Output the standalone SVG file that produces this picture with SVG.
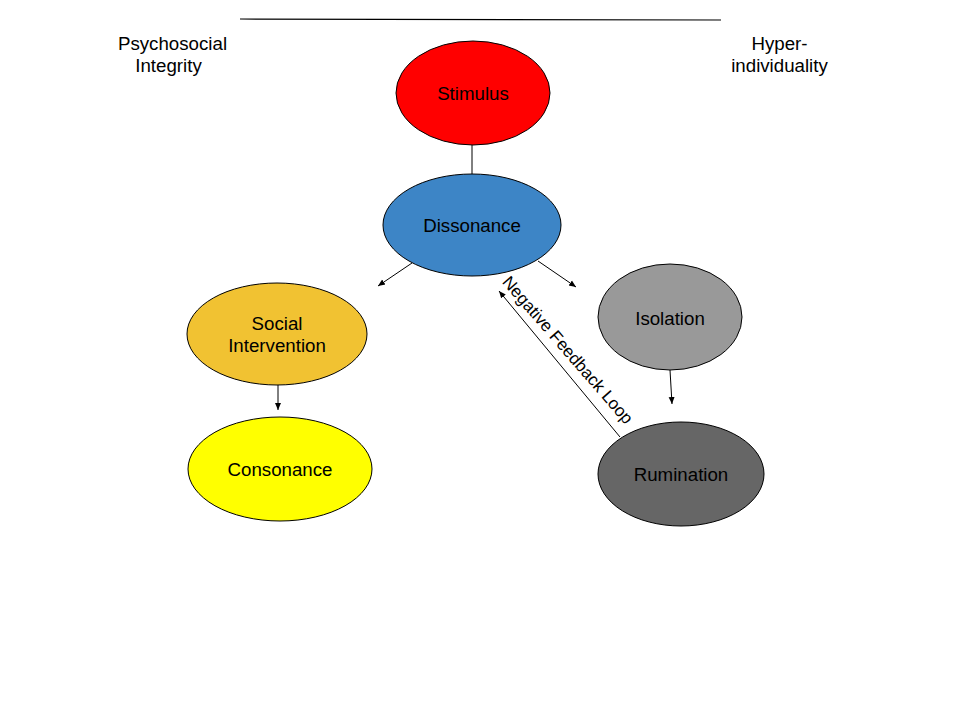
<svg xmlns="http://www.w3.org/2000/svg" width="960" height="720" viewBox="0 0 960 720">
<defs>
<marker id="ah" markerWidth="8" markerHeight="8" refX="7" refY="4" orient="auto" markerUnits="userSpaceOnUse">
<path d="M0,1 L7,4 L0,7 Z" fill="#000"/>
</marker>
<style>
.n{stroke:#000;stroke-width:1}
.t{font-family:"Liberation Sans",Arial,sans-serif;font-size:18.7px;fill:#000;text-anchor:middle}
.c{stroke:#000;stroke-width:1;fill:none}
</style>
</defs>
<rect width="960" height="720" fill="#fff"/>
<line x1="240" y1="19" x2="721" y2="20" stroke="#000" stroke-width="1.2"/>
<text class="t" x="172.5" y="50">Psychosocial</text>
<text class="t" x="168.5" y="72">Integrity</text>
<text class="t" x="779.5" y="50">Hyper-</text>
<text class="t" x="779.5" y="72">individuality</text>
<g id="connectors">
<line class="c" x1="472" y1="145" x2="472" y2="174"/>
<line class="c" x1="412" y1="263" x2="378" y2="286" marker-end="url(#ah)"/>
<line class="c" x1="538" y1="261" x2="576" y2="287" marker-end="url(#ah)"/>
<line class="c" x1="278" y1="385" x2="278" y2="410" marker-end="url(#ah)"/>
<line class="c" x1="670" y1="370" x2="672" y2="404" marker-end="url(#ah)"/>
<line class="c" x1="620" y1="437" x2="499" y2="291" marker-end="url(#ah)"/>
<text class="t" style="font-size:17px" transform="translate(568,350) rotate(49)" y="6">Negative Feedback Loop</text>
</g>
<g id="stimulus">
<ellipse class="n" cx="473" cy="93" rx="77" ry="52" fill="#ff0000"/>
<text class="t" x="473" y="100">Stimulus</text>
</g>
<g id="dissonance">
<ellipse class="n" cx="472" cy="225" rx="89" ry="51" fill="#3d85c6"/>
<text class="t" x="472" y="232">Dissonance</text>
</g>
<g id="social">
<ellipse class="n" cx="277" cy="334" rx="90" ry="51" fill="#f1c232"/>
<text class="t" x="277" y="330">Social</text>
<text class="t" x="277" y="352">Intervention</text>
</g>
<g id="consonance">
<ellipse class="n" cx="280" cy="469" rx="92" ry="52" fill="#ffff00"/>
<text class="t" x="280" y="476">Consonance</text>
</g>
<g id="isolation">
<ellipse class="n" cx="670" cy="317" rx="72" ry="53" fill="#999999"/>
<text class="t" x="670" y="325">Isolation</text>
</g>
<g id="rumination">
<ellipse class="n" cx="681" cy="474" rx="83" ry="52" fill="#666666"/>
<text class="t" x="681" y="481">Rumination</text>
</g>
</svg>
